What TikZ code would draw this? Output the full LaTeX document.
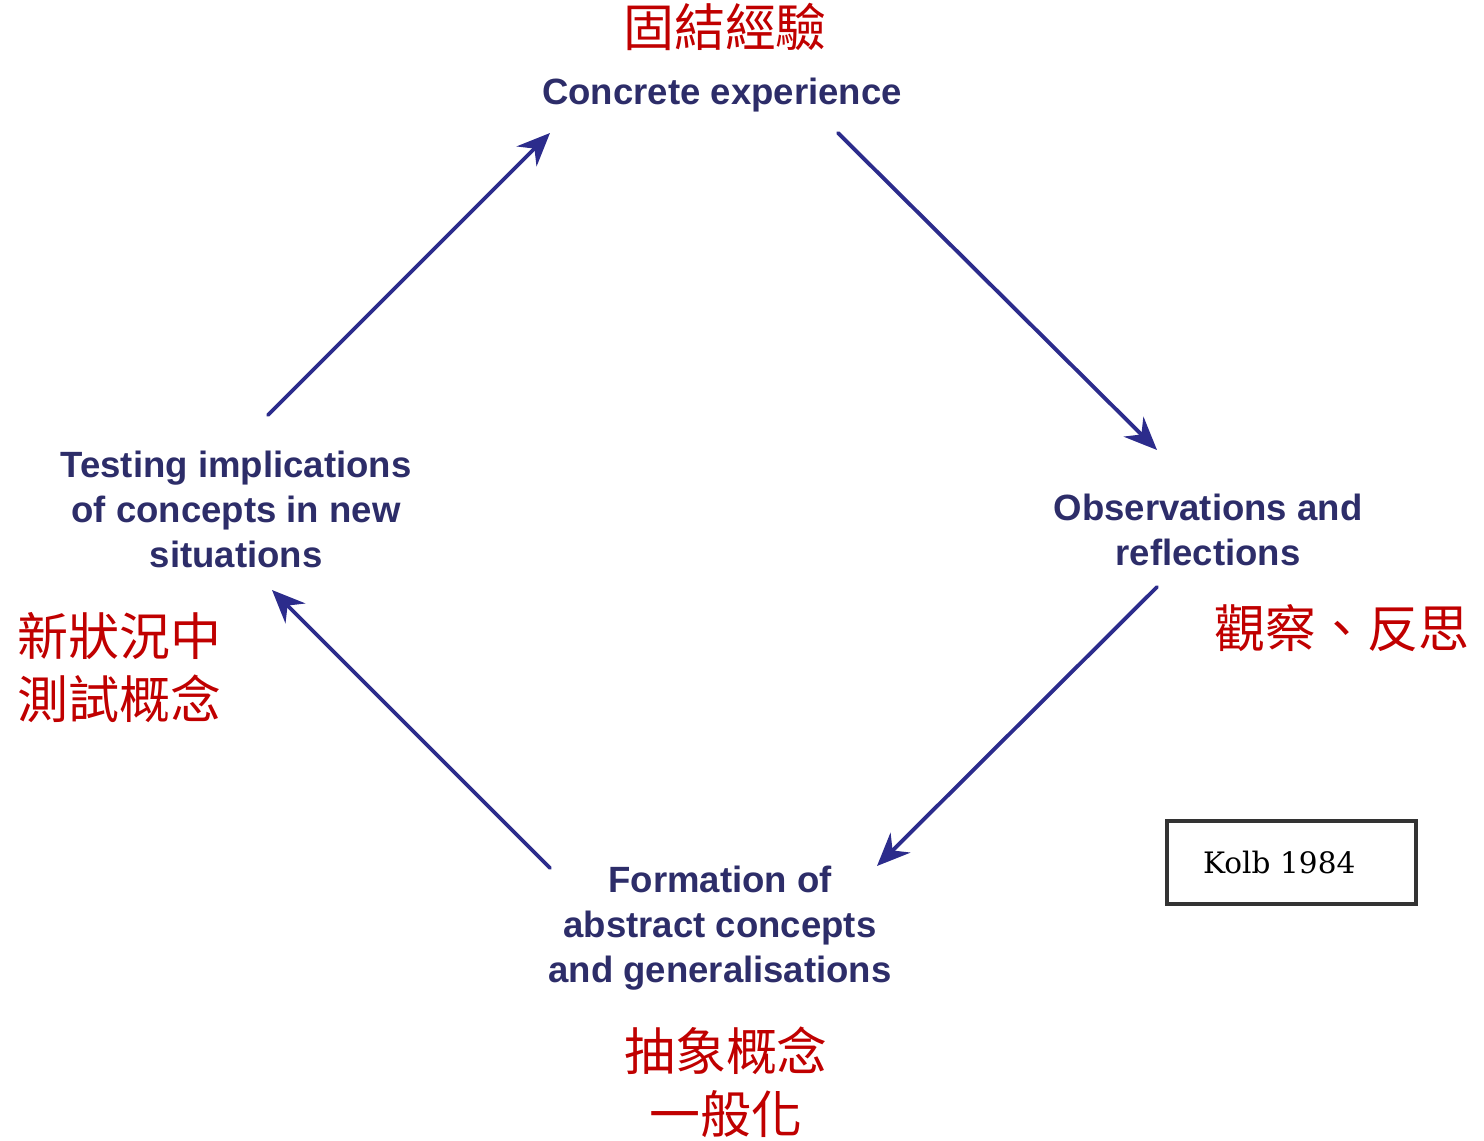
\documentclass[tikz,border=0pt]{standalone}
\usepackage{fontspec}
\setmainfont{Liberation Sans}
\newfontfamily\cjk{Noto Sans CJK TC}
\newfontfamily\slab{DejaVu Serif}
\usepackage{tikz}
\usetikzlibrary{calc, arrows.meta}
\usepackage{tkz-euclide}

\definecolor{kolbblue}{RGB}{44,44,140}
\definecolor{kolbtext}{RGB}{45,45,105}
\definecolor{kolbred}{RGB}{192,0,0}

\begin{document}
\begin{tikzpicture}[
        stage/.style={font=\fontsize{10.4}{12.8}\selectfont\bfseries, text=kolbtext, align=center, inner sep=0pt},
        zhlabel/.style={font=\cjk\fontsize{14.5}{17.9}\selectfont, text=kolbred, inner sep=0pt},
        cycle/.style={kolbblue, line width=1.1pt, -{Stealth[length=3.3mm, width=2.8mm, inset=1.1mm]}}]
                \useasboundingbox (0,0) rectangle (14.84,11.40);
                \tkzDefPoints{2.68/7.25/A, 5.50/10.07/B, 8.38/10.07/C, 11.57/6.90/D}
                \tkzDefPoints{11.57/5.53/E, 8.77/2.74/F, 5.50/2.72/G, 2.72/5.50/H}
                \tkzDrawSegments[cycle](A,B C,D E,F G,H)
                % the four stages
                \node[stage] (exp) at (7.22,10.45) {Concrete experience};
                \node[stage] (obs) at (12.08,6.10) {Observations and\\reflections};
                \node[stage] (abs) at (7.20,2.12) {Formation of\\abstract concepts\\and generalisations};
                \node[stage] (test) at (2.36,6.31) {Testing implications\\of concepts in new\\situations};
                % chinese notes
                \node[zhlabel] (expzh) at (7.25,11.13) {固結經驗};
                \node[zhlabel] (obszh) at (13.42,5.12) {觀察、反思};
                \node[zhlabel, align=center] (abszh) at (7.26,0.58) {抽象概念\\一般化};
                \node[zhlabel, align=left, anchor=west] (testzh) at (0.17,4.72) {新狀況中\\測試概念};
                % source
                \node[draw=black!80, line width=1pt, font=\slab\fontsize{8.4}{10}\selectfont,
                      text width=1.77cm, inner xsep=0.36cm, minimum height=0.83cm, align=left] (kolb) at (12.915,2.775) {Kolb 1984};
            \end{tikzpicture}
\end{document}
